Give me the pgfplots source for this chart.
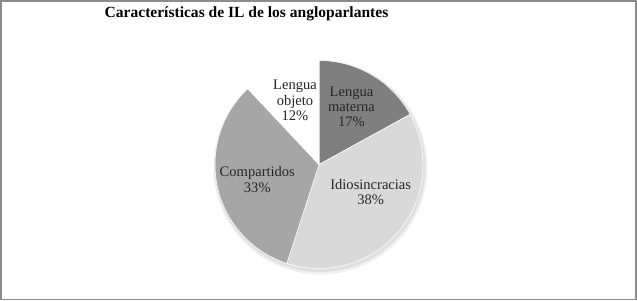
\documentclass[border=0pt]{standalone}
\usepackage{pgfplots}
\pgfplotsset{compat=1.18}
\usepackage{pgfplotstable}
\usepackage{fontspec}
\setmainfont{Liberation Serif}
\definecolor{cLM}{HTML}{7F7F7F}
\definecolor{cID}{HTML}{D9D9D9}
\definecolor{cCO}{HTML}{A6A6A6}
\definecolor{cLO}{HTML}{FFFFFF}
\definecolor{frameGray}{HTML}{8C8C8C}
\pgfplotstableread{
label value
LM 17
ID 38
CO 33
LO 12
}\piedata
\pgfplotstablegetelem{0}{value}\of\piedata \edef\vA{\pgfplotsretval}
\pgfplotstablegetelem{1}{value}\of\piedata \edef\vB{\pgfplotsretval}
\pgfplotstablegetelem{2}{value}\of\piedata \edef\vC{\pgfplotsretval}
\pgfplotstablegetelem{3}{value}\of\piedata \edef\vD{\pgfplotsretval}
\def\cx{319}\def\cy{136.5}\def\rr{104}
\begin{document}
\begin{tikzpicture}
\pgfmathsetmacro\aA{3.6*\vA}
\pgfmathsetmacro\aB{\aA+3.6*\vB}
\pgfmathsetmacro\aC{\aB+3.6*\vC}
\pgfmathsetmacro\aD{\aC+3.6*\vD}
\begin{axis}[scale only axis, width=637bp, height=301bp,
  xmin=0, xmax=637, ymin=0, ymax=301, hide axis, clip=false]
% soft shadow
\addplot[fill=black!12, draw=none, domain=0:360, samples=120, variable=\t]
  ({\cx+1+(\rr+1.5)*sin(\t)},{\cy-2+(\rr+1.5)*cos(\t)}) -- cycle;
\addplot[fill=black!6, draw=none, domain=0:360, samples=120, variable=\t]
  ({\cx+1.5+(\rr+3)*sin(\t)},{\cy-3+(\rr+3)*cos(\t)}) -- cycle;
\addplot[fill=black!12, draw=none, domain=0:360, samples=120, variable=\t]
  ({\cx+1+(\rr+1.5)*sin(\t)},{\cy-2+(\rr+1.5)*cos(\t)}) -- cycle;
\addplot[fill=cLM, draw=white, line width=0.5bp, domain=0:\aA, samples=40, variable=\t]
  ({\cx+\rr*sin(\t)},{\cy+\rr*cos(\t)}) -- (axis cs:\cx,\cy) -- cycle;
\addplot[fill=cID, draw=white, line width=0.5bp, domain=\aA:\aB, samples=80, variable=\t]
  ({\cx+\rr*sin(\t)},{\cy+\rr*cos(\t)}) -- (axis cs:\cx,\cy) -- cycle;
\addplot[fill=cCO, draw=white, line width=0.5bp, domain=\aB:\aC, samples=80, variable=\t]
  ({\cx+\rr*sin(\t)},{\cy+\rr*cos(\t)}) -- (axis cs:\cx,\cy) -- cycle;
\addplot[fill=cLO, draw=white, line width=0.5bp, domain=\aC:\aD, samples=40, variable=\t]
  ({\cx+\rr*sin(\t)},{\cy+\rr*cos(\t)}) -- (axis cs:\cx,\cy) -- cycle;
% labels
\tikzset{lbl/.style={anchor=base, inner sep=0pt, font=\fontsize{14.6}{17}\selectfont, text=black!85}}
\node[lbl] at (axis cs:351.5,{301-96.7}) {Lengua};
\node[lbl] at (axis cs:351.5,{301-111.7}) {materna};
\node[lbl] at (axis cs:351.5,{301-126.7}) {\vA\%};
\node[lbl] at (axis cs:295,{301-90}) {Lengua};
\node[lbl] at (axis cs:295,{301-105.3}) {objeto};
\node[lbl] at (axis cs:295,{301-121}) {\vD\%};
\node[lbl] at (axis cs:257.3,{301-176.7}) {Compartidos};
\node[lbl] at (axis cs:257.3,{301-192.7}) {\vC\%};
\node[lbl] at (axis cs:370.7,{301-189.3}) {Idiosincracias};
\node[lbl] at (axis cs:370.7,{301-205}) {\vB\%};
\node[anchor=base, inner sep=0pt, font=\bfseries\fontsize{15.6}{18}\selectfont] at (axis cs:246.5,{301-17.3}) {Características de IL de los angloparlantes};
\draw[frameGray, line width=1.5bp] (axis cs:1,1.5) rectangle (axis cs:635.8,300.2);
\end{axis}
\path (0,0) rectangle (637bp,301bp);
\end{tikzpicture}
\end{document}
